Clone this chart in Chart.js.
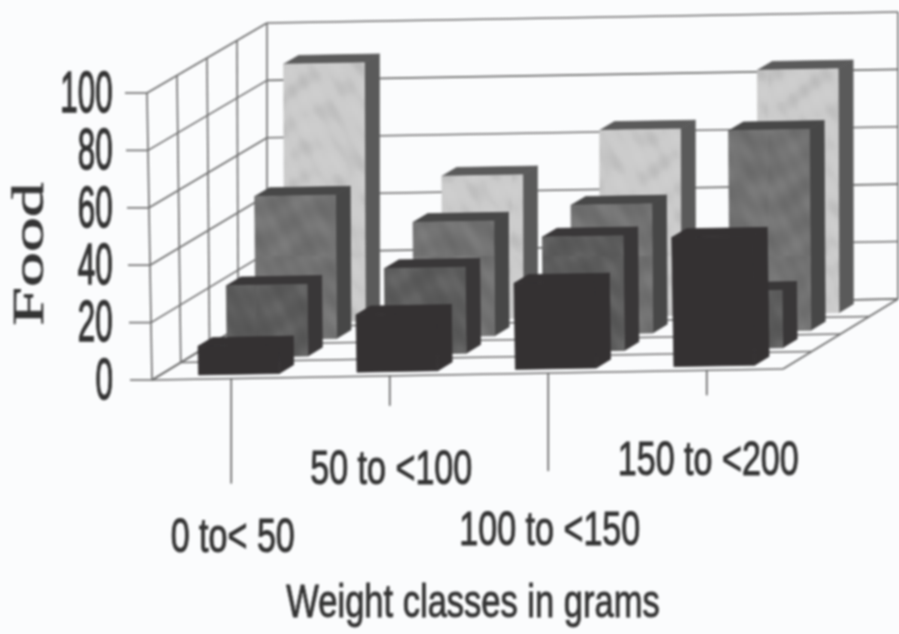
<!DOCTYPE html>
<html lang="en">
<head>
  <meta charset="UTF-8" />
  <title>Food by weight class</title>
  <script src="https://cdn.jsdelivr.net/npm/chart.js"></script>
  <style>
    html, body { margin: 0; padding: 0; background: #fbfcfd; }
    canvas { display: block; filter: blur(0.8px); }
  </style>
</head>
<body>
  <canvas id="chart" width="899" height="634"></canvas>

  <script>
    const categories = ['0 to< 50', '50 to <100', '100 to <150', '150 to <200'];
    // rows, front to back
    const row1 = [10, 20, 30, 45];
    const row2 = [25, 30, 40, 20];
    const row3 = [50, 40, 45, 70];
    const row4 = [90, 50, 65, 85];
    const yTicks = [0, 20, 40, 60, 80, 100];
    const yTitle = 'Food';
    const xTitle = 'Weight classes in grams';

    const frontColors = ['#343132', '#5c5c5c', '#727272', '#cbcbcb'];
    const sideColors = ['#343132', '#393738', '#474747', '#5a5a5a'];

    const DEPTH_X = 115, DEPTH_Y = 70, TILT = 0.0175, LEAN = 5;
    const WALL_TRIM = 3; // floor and back wall stop slightly short of the last category edge
    const GRID = '#6c6c6c';

    // fake the oblique view: px,py come from the scales, d is 0 (front) to 1 (back wall)
    function project(area, px, py, d) {
      const lean = -LEAN * (area.bottom - py) / (area.bottom - area.top) * (1 - d);
      return [px + DEPTH_X * d + lean, py - DEPTH_Y * d - TILT * (px - area.left)];
    }

    function line(ctx, a, b) {
      ctx.beginPath();
      ctx.moveTo(a[0], a[1]);
      ctx.lineTo(b[0], b[1]);
      ctx.stroke();
    }

    function quad(ctx, pts, fill) {
      ctx.fillStyle = fill;
      ctx.strokeStyle = fill;
      ctx.lineWidth = 0.7; // closes the hairline seam between faces
      ctx.beginPath();
      pts.forEach((p, i) => i ? ctx.lineTo(p[0], p[1]) : ctx.moveTo(p[0], p[1]));
      ctx.closePath();
      ctx.fill();
      ctx.stroke();
    }

    // mottled print texture on the bar fronts
    function mottled(ctx, base) {
      const tile = document.createElement('canvas');
      tile.width = tile.height = 256;
      const t = tile.getContext('2d');
      t.fillStyle = base;
      t.fillRect(0, 0, 256, 256);
      for (let x = 0; x < 256; x += 3) {
        for (let y = 0; y < 256; y += 3) {
          const v = Math.sin(x * 0.13 + Math.sin(y * 0.07) * 2) + Math.sin(y * 0.19 - Math.cos(x * 0.05) * 3)
            + 0.5 * Math.sin(x * 1.7 + y * 2.3);
          t.fillStyle = v > 0 ? `rgba(255,255,255,${v * 0.03})` : `rgba(0,0,0,${-v * 0.03})`;
          t.fillRect(x, y, 3, 3);
        }
      }
      return ctx.createPattern(tile, 'repeat');
    }

    function stretchedText(ctx, text, x, y, font, sx, rot, bold) {
      ctx.save();
      ctx.translate(x, y);
      if (rot) ctx.rotate(rot);
      ctx.scale(sx, 1);
      ctx.font = font;
      ctx.fillStyle = '#333';
      ctx.strokeStyle = '#333';
      ctx.lineWidth = bold;
      ctx.textAlign = 'center';
      ctx.textBaseline = 'middle';
      ctx.fillText(text, 0, 0);
      ctx.strokeText(text, 0, 0);
      ctx.restore();
    }

    const box3d = {
      id: 'box3d',
      beforeDatasetsDraw(chart) {
        const { ctx, chartArea: a, scales: { y } } = chart;
        const wallRight = a.right - WALL_TRIM;
        ctx.save();
        ctx.strokeStyle = GRID;
        ctx.lineWidth = 1.6;
        // walls, one line per y tick
        y.ticks.forEach(t => {
          const py = y.getPixelForValue(t.value);
          line(ctx, project(a, a.left, py, 0), project(a, a.left, py, 1));
          line(ctx, project(a, a.left, py, 1), project(a, wallRight, py, 1));
          const f = project(a, a.left, py, 0);
          line(ctx, f, [f[0] - 22, f[1]]);
        });
        [0, 0.25, 0.5, 0.75, 1].forEach(d => {
          line(ctx, project(a, a.left, a.top, d), project(a, a.left, a.bottom, d));
          line(ctx, project(a, a.left, a.bottom, d), project(a, wallRight, a.bottom, d));
        });
        line(ctx, project(a, wallRight, a.top, 1), project(a, wallRight, a.bottom, 1));
        line(ctx, project(a, wallRight, a.bottom, 0), project(a, wallRight, a.bottom, 1));
        line(ctx, project(a, a.left, a.bottom, 0), project(a, a.left, a.bottom, 1));
        ctx.restore();
      },
      beforeDatasetDraw(chart, args) {
        const { ctx, chartArea: a } = chart;
        const i = args.index;
        const d0 = 0.0625 + 0.25 * i, d1 = d0 + 0.125;
        const front = mottled(ctx, frontColors[i]);
        ctx.save();
        args.meta.data.forEach(bar => {
          // back rows sit a little closer together toward the right
          const squeeze = 3 * d0 * (bar.x - a.left) / (a.right - a.left);
          const l = bar.x - bar.width / 2 + 0.5 - squeeze, r = bar.x + bar.width / 2 + 0.5 - squeeze;
          const p = (x, y, d) => project(a, x, y, d);
          quad(ctx, [p(l, bar.y, d0), p(r, bar.y, d0), p(r, bar.y, d1), p(l, bar.y, d1)], sideColors[i]);
          quad(ctx, [p(r, bar.base, d0), p(r, bar.y, d0), p(r, bar.y, d1), p(r, bar.base, d1)], sideColors[i]);
          quad(ctx, [p(l, bar.base, d0), p(r, bar.base, d0), p(r, bar.y, d0), p(l, bar.y, d0)], i === 0 ? frontColors[i] : front);
        });
        ctx.restore();
        return false;
      },
      afterDraw(chart) {
        const { ctx, chartArea: a, scales: { x, y } } = chart;
        // staggered x ticks and labels
        const tickLen = [105, 30, 98, 25];
        const labelDrop = [160, 95, 159, 91];
        ctx.save();
        ctx.strokeStyle = '#5f5f5f';
        ctx.lineWidth = 1.6;
        categories.forEach((c, i) => {
          const px = x.getPixelForTick(i);
          const f = project(a, px, a.bottom, 0);
          line(ctx, f, [f[0], f[1] + tickLen[i]]);
          stretchedText(ctx, c, f[0] + 1.5, f[1] + labelDrop[i], '48px "Liberation Sans"', 0.71, 0, 1);
        });
        ctx.restore();
        y.ticks.forEach(t => {
          const py = y.getPixelForValue(t.value);
          const w = String(t.label).length * 17.7;
          stretchedText(ctx, t.label, 113 - w / 2, py + 3, '57px "Liberation Sans"', 0.55, 0, 1.4);
        });
        stretchedText(ctx, yTitle, 31, 254, '45px "Liberation Serif"', 1.55, -Math.PI / 2, 0.6);
        stretchedText(ctx, xTitle, 473, 604, '46px "Liberation Sans"', 0.75, 0, 0.9);
      }
    };

    new Chart(document.getElementById('chart'), {
      type: 'bar',
      data: {
        labels: categories,
        datasets: [row1, row2, row3, row4].map((data, i) => ({
          label: 'Row ' + (i + 1),
          data,
          backgroundColor: frontColors[i],
          grouped: false,
          categoryPercentage: 0.51,
          barPercentage: 1
        }))
      },
      options: {
        responsive: false,
        animation: false,
        layout: { padding: { left: 152, right: 113, top: 93, bottom: 254 } },
        plugins: { legend: { display: false }, tooltip: { enabled: false } },
        scales: {
          x: {
            grid: { display: false, drawTicks: false },
            border: { display: false },
            ticks: { display: false }
          },
          y: {
            min: 0,
            max: 100,
            afterBuildTicks(scale) { scale.ticks = yTicks.map(value => ({ value, label: String(value) })); },
            grid: { display: false, drawTicks: false },
            border: { display: false },
            ticks: { display: false }
          }
        }
      },
      plugins: [box3d]
    });
  </script>
</body>
</html>
